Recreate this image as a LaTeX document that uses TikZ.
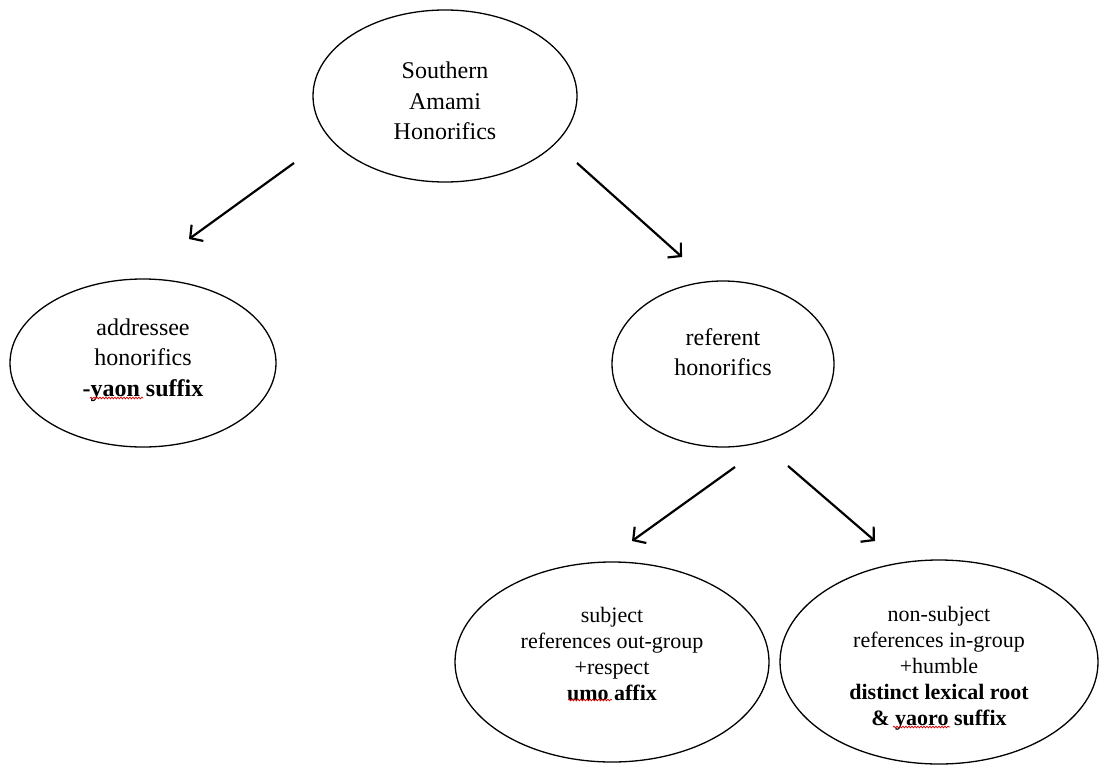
\documentclass[tikz,border=0pt]{standalone}
\usepackage{fontspec}
\setmainfont{Liberation Serif}
\usetikzlibrary{shapes.geometric,arrows.meta,decorations.pathmorphing}
\tikzset{
  oval/.style={ellipse, draw=black, line width=1.3pt, inner sep=0pt},
  bigtxt/.style={align=center, font=\fontsize{24}{30.5}\selectfont, inner sep=0pt},
  smalltxt/.style={align=center, font=\fontsize{22}{26}\selectfont, inner sep=0pt},
  arr/.style={line width=2.2pt, -{Straight Barb[length=9pt,width=20pt,line width=2.2pt]}},
  squiggle/.style={red!85!black, line width=0.7pt, decorate, decoration={snake, amplitude=0.9pt, segment length=3pt}}
}
\begin{document}
\begin{tikzpicture}[x=1pt,y=-1pt]
\useasboundingbox (0,0) rectangle (1099,765);
% ellipses
\node[oval, minimum width=264pt, minimum height=172pt] (top) at (445,96) {};
\node[oval, minimum width=266pt, minimum height=168pt] (addr) at (143,363) {};
\node[oval, minimum width=222pt, minimum height=166pt] (ref) at (723,364) {};
\node[oval, minimum width=314pt, minimum height=200pt] (subj) at (612,662) {};
\node[oval, minimum width=318pt, minimum height=204pt] (nsubj) at (939,662) {};
% texts
\node[bigtxt] (toptxt) at (445,101) {Southern\\Amami\\Honorifics};
\node[bigtxt] (addrtxt) at (143,360) {addressee\\honorifics\\\textbf{-yaon suffix}};
\node[bigtxt] (reftxt) at (723,352) {referent\\honorifics};
\node[smalltxt] (subjtxt) at (612,654) {subject\\references out-group\\+respect\\\textbf{umo affix}};
\node[smalltxt] (nsubjtxt) at (939,668) {non-subject\\references in-group\\+humble\\\textbf{distinct lexical root}\\\textbf{\& yaoro suffix}};
% spell-check squiggles
\draw[squiggle] (90,398) -- (143,398);
\draw[squiggle] (568,700) -- (612,700);
\draw[squiggle] (893,727) -- (950,727);
% arrow endpoints
\coordinate (a1s) at (294,163);
\coordinate (a1e) at (189,239);
\coordinate (a2s) at (577,163);
\coordinate (a2e) at (682,257);
\coordinate (a3s) at (735,467);
\coordinate (a3e) at (632,541);
\coordinate (a4s) at (788,466);
\coordinate (a4e) at (875,541);
\draw[arr] (a1s) -- (a1e);
\draw[arr] (a2s) -- (a2e);
\draw[arr] (a3s) -- (a3e);
\draw[arr] (a4s) -- (a4e);
\end{tikzpicture}
\end{document}
